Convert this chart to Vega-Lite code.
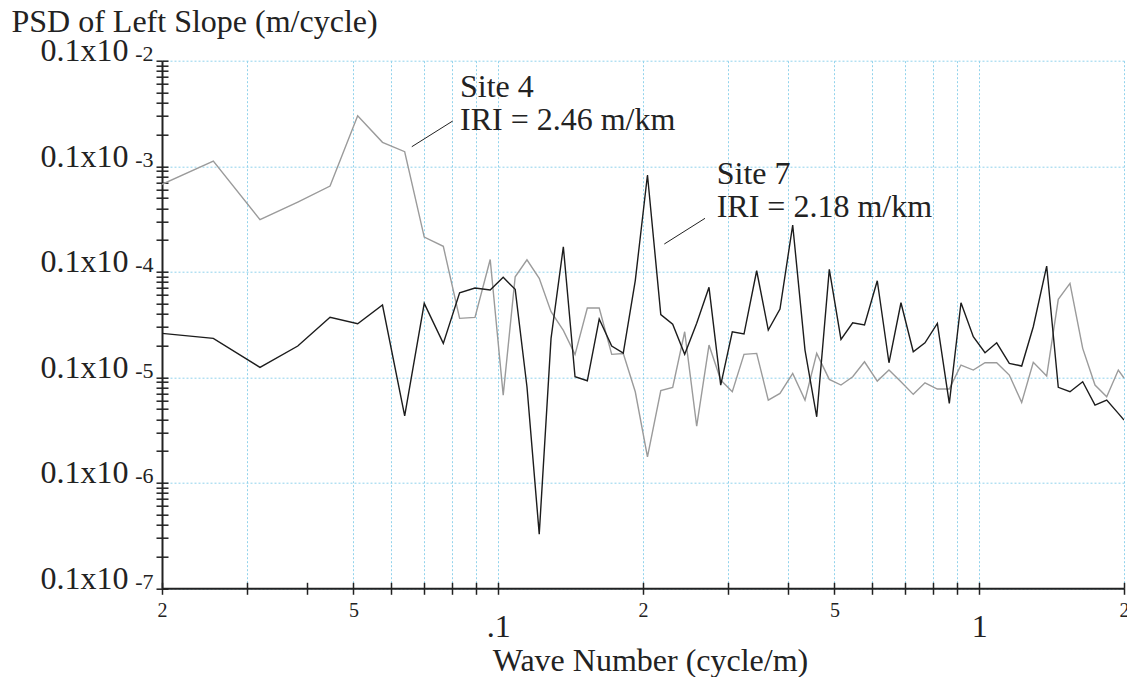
{
  "$schema": "https://vega.github.io/schema/vega-lite/v6.json",
  "width": 962,
  "height": 527.6,
  "autosize": {"type": "none"},
  "padding": {"left": 162, "top": 60.7, "right": 3, "bottom": 88.7},
  "background": "white",
  "config": {
    "view": {"stroke": null},
    "font": "Liberation Serif",
    "axis": {
      "labelFont": "Liberation Serif",
      "titleFont": "Liberation Serif",
      "labelColor": "#222",
      "titleColor": "#222",
      "titleFontWeight": "normal",
      "labelOverlap": false,
      "labelFlush": false,
      "labelBound": false
    }
  },
  "resolve": {"axis": {"x": "independent", "y": "independent"}},
  "layer": [
    {
      "data": {"values": [
        {"s":"Site 4","f":0.02,"v":6.735e-5},{"s":"Site 4","f":0.02557,"v":1.120e-4},{"s":"Site 4","f":0.03197,"v":3.111e-5},{"s":"Site 4","f":0.03831,"v":4.578e-5},{"s":"Site 4","f":0.04471,"v":6.490e-5},{"s":"Site 4","f":0.05103,"v":3.011e-4},{"s":"Site 4","f":0.05747,"v":1.684e-4},{"s":"Site 4","f":0.06391,"v":1.372e-4},{"s":"Site 4","f":0.07018,"v":2.132e-5},{"s":"Site 4","f":0.07689,"v":1.741e-5},{"s":"Site 4","f":0.08313,"v":3.616e-6},{"s":"Site 4","f":0.08948,"v":3.697e-6},{"s":"Site 4","f":0.09624,"v":1.305e-5},{"s":"Site 4","f":0.10242,"v":6.781e-7},{"s":"Site 4","f":0.10847,"v":8.966e-6},{"s":"Site 4","f":0.11476,"v":1.299e-5},{"s":"Site 4","f":0.1217,"v":8.658e-6},{"s":"Site 4","f":0.12878,"v":4.177e-6},{"s":"Site 4","f":0.13659,"v":2.783e-6},{"s":"Site 4","f":0.14445,"v":1.641e-6},{"s":"Site 4","f":0.1532,"v":4.528e-6},{"s":"Site 4","f":0.16218,"v":4.528e-6},{"s":"Site 4","f":0.17218,"v":1.649e-6},{"s":"Site 4","f":0.18199,"v":1.677e-6},{"s":"Site 4","f":0.19274,"v":7.289e-7},{"s":"Site 4","f":0.20433,"v":1.763e-7},{"s":"Site 4","f":0.21778,"v":7.481e-7},{"s":"Site 4","f":0.23054,"v":8.022e-7},{"s":"Site 4","f":0.24417,"v":2.700e-6},{"s":"Site 4","f":0.25862,"v":3.446e-7},{"s":"Site 4","f":0.27432,"v":2.020e-6},{"s":"Site 4","f":0.29013,"v":9.408e-7},{"s":"Site 4","f":0.30668,"v":7.289e-7},{"s":"Site 4","f":0.32435,"v":1.649e-6},{"s":"Site 4","f":0.34464,"v":1.684e-6},{"s":"Site 4","f":0.36432,"v":6.080e-7},{"s":"Site 4","f":0.38531,"v":7.037e-7},{"s":"Site 4","f":0.40951,"v":1.089e-6},{"s":"Site 4","f":0.43434,"v":6.080e-7},{"s":"Site 4","f":0.45936,"v":1.684e-6},{"s":"Site 4","f":0.4879,"v":9.552e-7},{"s":"Site 4","f":0.516,"v":8.435e-7},{"s":"Site 4","f":0.54576,"v":1.011e-6},{"s":"Site 4","f":0.57747,"v":1.403e-6},{"s":"Site 4","f":0.61388,"v":9.204e-7},{"s":"Site 4","f":0.64923,"v":1.170e-6},{"s":"Site 4","f":0.68761,"v":9.065e-7},{"s":"Site 4","f":0.72931,"v":6.885e-7},{"s":"Site 4","f":0.77139,"v":8.868e-7},{"s":"Site 4","f":0.81847,"v":7.730e-7},{"s":"Site 4","f":0.86662,"v":7.730e-7},{"s":"Site 4","f":0.91649,"v":1.305e-6},{"s":"Site 4","f":0.97213,"v":1.170e-6},{"s":"Site 4","f":1.02814,"v":1.372e-6},{"s":"Site 4","f":1.08732,"v":1.372e-6},{"s":"Site 4","f":1.15497,"v":1.049e-6},{"s":"Site 4","f":1.22549,"v":5.782e-7},{"s":"Site 4","f":1.29548,"v":1.384e-6},{"s":"Site 4","f":1.38128,"v":1.027e-6},{"s":"Site 4","f":1.4602,"v":5.474e-6},{"s":"Site 4","f":1.54427,"v":7.762e-6},{"s":"Site 4","f":1.64125,"v":1.879e-6},{"s":"Site 4","f":1.74078,"v":8.435e-7},{"s":"Site 4","f":1.84109,"v":6.534e-7},{"s":"Site 4","f":1.94628,"v":1.170e-6},{"s":"Site 4","f":2.0,"v":9.826e-7},
        {"s":"Site 7","f":0.02,"v":2.607e-6},{"s":"Site 7","f":0.02557,"v":2.337e-6},{"s":"Site 7","f":0.03197,"v":1.241e-6},{"s":"Site 7","f":0.03831,"v":1.976e-6},{"s":"Site 7","f":0.04471,"v":3.697e-6},{"s":"Site 7","f":0.05103,"v":3.215e-6},{"s":"Site 7","f":0.05747,"v":4.835e-6},{"s":"Site 7","f":0.06391,"v":4.316e-7},{"s":"Site 7","f":0.07018,"v":5.018e-6},{"s":"Site 7","f":0.07689,"v":2.096e-6},{"s":"Site 7","f":0.08313,"v":6.322e-6},{"s":"Site 7","f":0.08948,"v":7.006e-6},{"s":"Site 7","f":0.09624,"v":6.707e-6},{"s":"Site 7","f":0.10242,"v":8.849e-6},{"s":"Site 7","f":0.10847,"v":6.811e-6},{"s":"Site 7","f":0.11476,"v":8.128e-7},{"s":"Site 7","f":0.1217,"v":3.264e-8},{"s":"Site 7","f":0.12878,"v":2.337e-6},{"s":"Site 7","f":0.13659,"v":1.726e-5},{"s":"Site 7","f":0.14445,"v":1.011e-6},{"s":"Site 7","f":0.1532,"v":9.265e-7},{"s":"Site 7","f":0.16218,"v":3.562e-6},{"s":"Site 7","f":0.17218,"v":1.976e-6},{"s":"Site 7","f":0.18199,"v":1.696e-6},{"s":"Site 7","f":0.19274,"v":8.254e-6},{"s":"Site 7","f":0.20433,"v":8.254e-5},{"s":"Site 7","f":0.21778,"v":3.929e-6},{"s":"Site 7","f":0.23054,"v":3.180e-6},{"s":"Site 7","f":0.24417,"v":1.649e-6},{"s":"Site 7","f":0.25862,"v":3.243e-6},{"s":"Site 7","f":0.27432,"v":7.114e-6},{"s":"Site 7","f":0.29013,"v":8.435e-7},{"s":"Site 7","f":0.30668,"v":2.700e-6},{"s":"Site 7","f":0.32435,"v":2.568e-6},{"s":"Site 7","f":0.34464,"v":1.022e-5},{"s":"Site 7","f":0.36432,"v":2.802e-6},{"s":"Site 7","f":0.38531,"v":4.431e-6},{"s":"Site 7","f":0.40951,"v":2.771e-5},{"s":"Site 7","f":0.43434,"v":1.811e-6},{"s":"Site 7","f":0.45936,"v":4.223e-7},{"s":"Site 7","f":0.4879,"v":1.054e-5},{"s":"Site 7","f":0.516,"v":2.287e-6},{"s":"Site 7","f":0.54576,"v":3.285e-6},{"s":"Site 7","f":0.57747,"v":3.125e-6},{"s":"Site 7","f":0.61388,"v":8.218e-6},{"s":"Site 7","f":0.64923,"v":1.372e-6},{"s":"Site 7","f":0.68761,"v":5.084e-6},{"s":"Site 7","f":0.72931,"v":1.744e-6},{"s":"Site 7","f":0.77139,"v":2.123e-6},{"s":"Site 7","f":0.81847,"v":3.243e-6},{"s":"Site 7","f":0.86662,"v":5.655e-7},{"s":"Site 7","f":0.91649,"v":5.084e-6},{"s":"Site 7","f":0.97213,"v":2.420e-6},{"s":"Site 7","f":1.02814,"v":1.707e-6},{"s":"Site 7","f":1.08732,"v":2.123e-6},{"s":"Site 7","f":1.15497,"v":1.354e-6},{"s":"Site 7","f":1.22549,"v":1.277e-6},{"s":"Site 7","f":1.29548,"v":3.011e-6},{"s":"Site 7","f":1.38128,"v":1.132e-5},{"s":"Site 7","f":1.4602,"v":8.022e-7},{"s":"Site 7","f":1.54427,"v":7.289e-7},{"s":"Site 7","f":1.64125,"v":9.065e-7},{"s":"Site 7","f":1.74078,"v":5.450e-7},{"s":"Site 7","f":1.84109,"v":6.080e-7},{"s":"Site 7","f":1.94628,"v":4.547e-7},{"s":"Site 7","f":2.0,"v":3.929e-7}
      ]},
      "mark": {"type": "line", "strokeWidth": 1.4, "clip": true},
      "encoding": {
        "x": {
          "field": "f", "type": "quantitative",
          "scale": {"type": "log", "domain": [0.02, 2], "nice": false},
          "axis": {
            "orient": "bottom",
            "values": [0.02,0.03,0.04,0.05,0.06,0.07,0.08,0.09,0.1,0.2,0.3,0.4,0.5,0.6,0.7,0.8,0.9,1,2],
            "labelExpr": "indexof([0.02,0.2,2], datum.value) >= 0 ? '2' : (indexof([0.05,0.5], datum.value) >= 0 ? '5' : '')",
            "labelFontSize": 20,
            "labelBaseline": "alphabetic",
            "labelAlign": "center",
            "labelPadding": 22,
            "tickSize": 6, "tickWidth": 1.5, "tickColor": "#222",
            "domainColor": "#222", "domainWidth": 2,
            "grid": false,
            "title": "Wave Number (cycle/m)",
            "titleFontSize": 32,
            "titleBaseline": "alphabetic",
            "titleAlign": "center",
            "titleX": 488,
            "titleY": 82
          }
        },
        "y": {
          "field": "v", "type": "quantitative",
          "scale": {"type": "log", "domain": [1e-8, 1e-3], "nice": false},
          "axis": {
            "orient": "left",
            "values": [1e-8,2e-8,3e-8,4e-8,5e-8,6e-8,7e-8,8e-8,9e-8,1e-7,2e-7,3e-7,4e-7,5e-7,6e-7,7e-7,8e-7,9e-7,1e-6,2e-6,3e-6,4e-6,5e-6,6e-6,7e-6,8e-6,9e-6,1e-5,2e-5,3e-5,4e-5,5e-5,6e-5,7e-5,8e-5,9e-5,1e-4,2e-4,3e-4,4e-4,5e-4,6e-4,7e-4,8e-4,9e-4,1e-3],
            "labelExpr": "abs(log(datum.value)/LN10 - round(log(datum.value)/LN10)) < 0.001 ? '0.1x10' : ''",
            "labelFontSize": 32,
            "labelBaseline": "alphabetic",
            "labelAlign": "right",
            "labelPadding": 28,
            "labelDy": 16,
            "tickSize": 6, "tickWidth": 1.5, "tickColor": "#222",
            "domainColor": "#222", "domainWidth": 2,
            "grid": false,
            "title": "PSD of Left Slope (m/cycle)",
            "titleFontSize": 32,
            "titleAngle": 0,
            "titleAlign": "left",
            "titleBaseline": "alphabetic",
            "titleX": -151,
            "titleY": -29
          }
        },
        "color": {
          "field": "s", "type": "nominal",
          "scale": {"domain": ["Site 4", "Site 7"], "range": ["#9b9b9b", "#1c1c1c"]},
          "legend": null
        }
      }
    },
    {
      "data": {"values": [
        {"f": 0.08329, "v": 4.558e-4, "t": "Site 4\nIRI = 2.46 m/km"},
        {"f": 0.28463, "v": 6.735e-5, "t": "Site 7\nIRI = 2.18 m/km"}
      ]},
      "mark": {"type": "text", "align": "left", "baseline": "alphabetic", "fontSize": 32, "lineHeight": 33, "lineBreak": "\n", "color": "#222", "font": "Liberation Serif"},
      "encoding": {
        "x": {
          "field": "f", "type": "quantitative",
          "scale": {"type": "log", "domain": [0.02, 2], "nice": false},
          "axis": {
            "orient": "bottom",
            "values": [0.02,0.03,0.05,0.06,0.07,0.08,0.09,0.1,0.2,0.3,0.4,0.5,0.6,0.7,0.8,0.9,1,2],
            "labelExpr": "datum.value == 0.1 ? '.1' : (datum.value == 1 ? '1' : '')",
            "labelFontSize": 32,
            "labelBaseline": "alphabetic",
            "labelAlign": "center",
            "labelPadding": 48.4,
            "ticks": false, "tickSize": 0,
            "domain": false,
            "grid": true, "gridColor": "#92d3ec", "gridDash": [2, 2], "gridWidth": 1,
            "title": null
          }
        },
        "y": {
          "field": "v", "type": "quantitative",
          "scale": {"type": "log", "domain": [1e-8, 1e-3], "nice": false},
          "axis": {
            "orient": "left",
            "values": [1e-8,1e-7,1e-6,1e-5,1e-4,1e-3],
            "labelExpr": "'' + (round(log(datum.value)/LN10) + 1)",
            "labelFontSize": 22,
            "labelBaseline": "alphabetic",
            "labelAlign": "right",
            "labelPadding": 9,
            "labelDy": -3,
            "ticks": false, "tickSize": 0,
            "domain": false,
            "grid": true, "gridColor": "#92d3ec", "gridDash": [2, 2], "gridWidth": 1,
            "title": null
          }
        },
        "text": {"field": "t"}
      }
    },
    {
      "data": {"values": [
        {"f": 0.06612, "v": 1.530e-4, "f2": 0.08043, "v2": 2.682e-4},
        {"f": 0.22146, "v": 1.831e-5, "f2": 0.26912, "v2": 3.208e-5}
      ]},
      "mark": {"type": "rule", "strokeWidth": 1, "color": "#222"},
      "encoding": {
        "x": {
          "field": "f", "type": "quantitative",
          "scale": {"type": "log", "domain": [0.02, 2], "nice": false},
          "axis": {
            "orient": "bottom",
            "values": [0.02,0.03,0.04,0.05,0.06,0.07,0.08,0.09,0.1,0.2,0.3,0.4,0.5,0.6,0.7,0.8,0.9,1,2],
            "labels": false,
            "tickSize": -6, "tickWidth": 1.5, "tickColor": "#222",
            "domain": false, "grid": false, "title": null
          }
        },
        "x2": {"field": "f2"},
        "y": {
          "field": "v", "type": "quantitative",
          "scale": {"type": "log", "domain": [1e-8, 1e-3], "nice": false},
          "axis": {
            "orient": "left",
            "values": [1e-8,2e-8,3e-8,4e-8,5e-8,6e-8,7e-8,8e-8,9e-8,1e-7,2e-7,3e-7,4e-7,5e-7,6e-7,7e-7,8e-7,9e-7,1e-6,2e-6,3e-6,4e-6,5e-6,6e-6,7e-6,8e-6,9e-6,1e-5,2e-5,3e-5,4e-5,5e-5,6e-5,7e-5,8e-5,9e-5,1e-4,2e-4,3e-4,4e-4,5e-4,6e-4,7e-4,8e-4,9e-4,1e-3],
            "labels": false,
            "tickSize": -6, "tickWidth": 1.5, "tickColor": "#222",
            "domain": false, "grid": false, "title": null
          }
        },
        "y2": {"field": "v2"}
      }
    }
  ]
}
